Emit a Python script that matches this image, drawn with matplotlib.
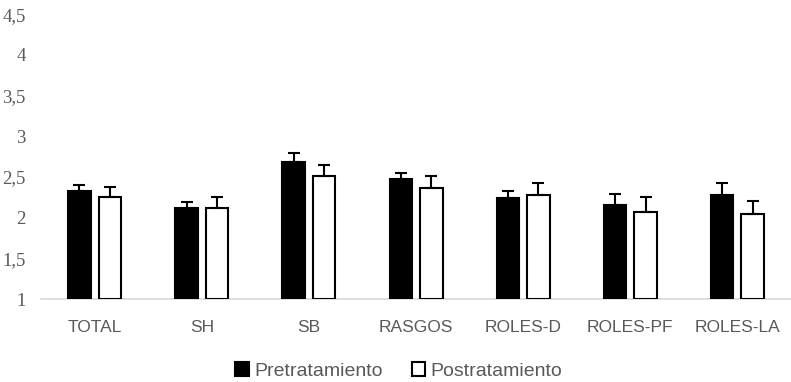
import numpy as np
import matplotlib.pyplot as plt
from matplotlib.patches import Patch

# --- DATA ---
categories = ["TOTAL", "SH", "SB", "RASGOS", "ROLES-D", "ROLES-PF", "ROLES-LA"]
pre_means = [2.33, 2.12, 2.69, 2.47, 2.24, 2.15, 2.28]
pre_err = [0.07, 0.07, 0.11, 0.08, 0.09, 0.14, 0.14]
post_means = [2.26, 2.12, 2.51, 2.37, 2.28, 2.07, 2.04]
post_err = [0.12, 0.13, 0.14, 0.14, 0.14, 0.18, 0.16]
y_ticks = [1, 1.5, 2, 2.5, 3, 3.5, 4, 4.5]
y_ticklabels = ["1", "1,5", "2", "2,5", "3", "3,5", "4", "4,5"]
series_names = ["Pretratamiento", "Postratamiento"]

# --- STYLE ---
gray = "#595959"
bar_w = 0.21
offset = 0.142

fig = plt.figure(figsize=(7.91, 3.82), dpi=100)
ax = fig.add_axes([0.052, 0.217, 0.948, 0.746])

x = np.arange(len(categories))
ax.bar(x - offset, np.array(pre_means) - 1, bar_w, bottom=1, color="black",
       edgecolor="black", linewidth=1.5, zorder=3)
ax.bar(x + offset, np.array(post_means) - 1, bar_w, bottom=1, color="white",
       edgecolor="black", linewidth=1.5, zorder=3)
ax.errorbar(x - offset, pre_means, yerr=[np.zeros(len(pre_err)), pre_err],
            fmt="none", ecolor="black", elinewidth=1.5, capsize=4.3, capthick=1.5, zorder=4)
ax.errorbar(x + offset, post_means, yerr=[np.zeros(len(post_err)), post_err],
            fmt="none", ecolor="black", elinewidth=1.5, capsize=4.3, capthick=1.5, zorder=4)

ax.set_xlim(-0.5, len(categories) - 0.5)
ax.set_ylim(1, 4.5)

for s in ["top", "right", "left"]:
    ax.spines[s].set_visible(False)
ax.spines["bottom"].set_color("#d9d9d9")
ax.spines["bottom"].set_linewidth(1.2)

ax.set_yticks(y_ticks)
ax.set_yticklabels(y_ticklabels, family="Liberation Serif", fontsize=13.5, color=gray)
ax.set_xticks(x)
ax.set_xticklabels(categories, family="Liberation Sans", fontsize=12.5, color=gray)
ax.tick_params(axis="y", length=0, pad=11)
ax.tick_params(axis="x", length=0, pad=15)

handles = [Patch(facecolor="black", edgecolor="black", linewidth=1.5),
           Patch(facecolor="white", edgecolor="black", linewidth=1.5)]
fig.legend(handles, series_names, loc="center", bbox_to_anchor=(0.504, 0.028),
           ncol=2, frameon=False, handlelength=0.7, handleheight=0.7,
           handletextpad=0.25, columnspacing=1.5,
           prop={"family": "Liberation Sans", "size": 14}, labelcolor=gray)

plt.savefig("out.png", dpi=100)
